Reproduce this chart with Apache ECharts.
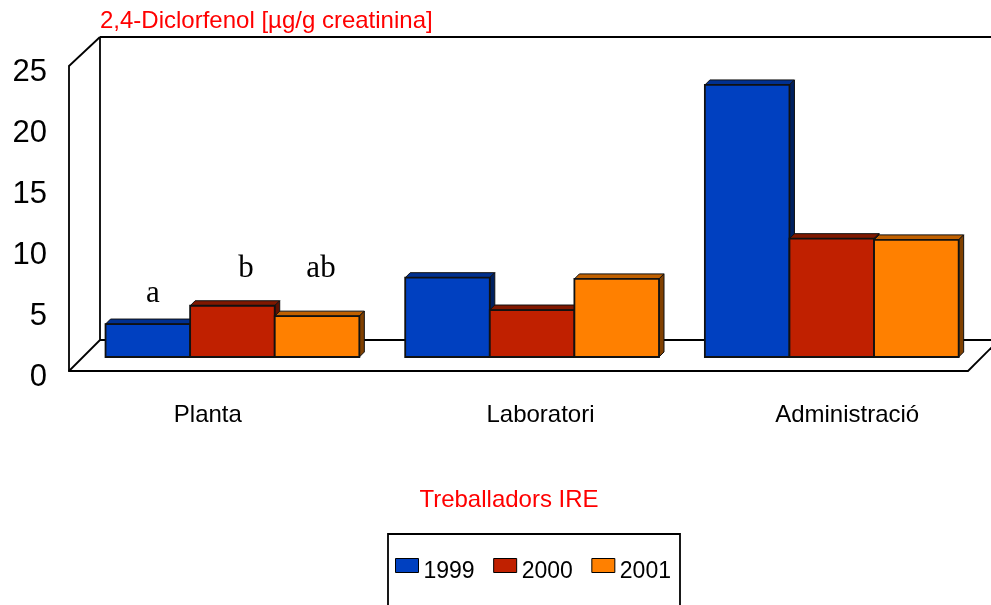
<!DOCTYPE html>
<html><head><meta charset="utf-8">
<style>html,body{margin:0;padding:0;background:#fff;overflow:hidden}#c{width:991px;height:605px}</style>
<script src="https://cdn.jsdelivr.net/npm/echarts@6/dist/echarts.min.js"></script>
</head><body><div id="c"></div>
<script>
var categories = ['Planta', 'Laboratori', 'Administració'];
var years = ['1999', '2000', '2001'];
var v1999 = [2.7, 6.5, 22.3];
var v2000 = [4.2, 3.85, 9.7];
var v2001 = [3.35, 6.4, 9.6];
var yTicks = [0, 5, 10, 15, 20, 25];
var titleText = '2,4-Diclorfenol [\u00b5g/g creatinina]';
var xTitle = 'Treballadors IRE';
var letters = ['a', 'b', 'ab'];

var front = ['#0040C0', '#C02000', '#FF8000'];
var topC = ['#003090', '#801800', '#C06000'];
var sideC = ['#002060', '#601000', '#804000'];
var ink = '#111';
var DX = 13.6, DY = -14, D = 5, BAR = 84.6;
var labelShift = [-22, 44, 58];

function barItem(s) {
  return function (params, api) {
    var c = api.coord([api.value(0), api.value(1)]);
    var b = api.coord([api.value(0), 0]);
    var x = c[0] + DX - 1.5 * BAR + s * BAR, x2 = x + BAR;
    var yt = c[1] + DY, yb = b[1] + DY;
    return { type: 'group', children: [
      { type: 'polygon', shape: { points: [[x, yt], [x + D, yt - D], [x2 + D, yt - D], [x2, yt]] },
        style: { fill: topC[s], stroke: ink, lineWidth: 1 } },
      { type: 'polygon', shape: { points: [[x2, yt], [x2 + D, yt - D], [x2 + D, yb - D], [x2, yb]] },
        style: { fill: sideC[s], stroke: ink, lineWidth: 1 } },
      { type: 'rect', shape: { x: x, y: yt, width: BAR, height: yb - yt },
        style: { fill: front[s], stroke: ink, lineWidth: 1.8 } }
    ]};
  };
}
function frameItem(params, api) {
  var g = params.coordSys, dx = 31;
  var L = g.x, R = g.x + g.width, T = g.y, B = g.y + g.height;
  var st = { stroke: '#000', lineWidth: 1.8, fill: null };
  function ln(a, b, c, d) { return { type: 'line', shape: { x1: a, y1: b, x2: c, y2: d }, style: st }; }
  return { type: 'group', children: [
    ln(L + dx, T - 29, L + dx, B - dx),
    ln(L + dx, T - 29, R + dx, T - 29),
    ln(L + dx, B - dx, R + dx, B - dx),
    ln(L, T, L + dx, T - 29),
    ln(L, B, L + dx, B - dx),
    ln(R, B, R + dx, B - dx)
  ]};
}
function series(i, vals) {
  return { type: 'custom', name: years[i], coordinateSystem: 'cartesian2d', clip: false,
    z: 3 + i, renderItem: barItem(i), itemStyle: { color: front[i] }, encode: { x: 0, y: 1 },
    data: categories.map(function (c, k) { return [k, vals[k]]; }) };
}
var rich = {};
categories.forEach(function (c, i) {
  var s = labelShift[i];
  rich['c' + i] = { fontFamily: 'Liberation Sans', fontSize: 24, color: '#000',
    padding: s > 0 ? [0, 0, 0, s] : [0, -s, 0, 0] };
});
var chart = echarts.init(document.getElementById('c'), null, { renderer: 'canvas' });
chart.setOption({
  animation: false,
  backgroundColor: '#fff',
  grid: { left: 69, right: 23, top: 66, bottom: 234, containLabel: false },
  title: { text: titleText, left: 100, top: 9, padding: 0,
    textStyle: { fontFamily: 'Liberation Sans', fontSize: 24, fontWeight: 'normal', color: '#FF0000' } },
  legend: { data: years, left: 388, top: 534, icon: 'rect', itemWidth: 23, itemHeight: 14, itemGap: 18.5,
    padding: [24, 9, 60, 7], borderColor: '#000', borderWidth: 1.8, backgroundColor: '#fff',
    itemStyle: { borderColor: '#000', borderWidth: 1 }, selectedMode: false,
    formatter: function (n) { return '{t|' + n + '}'; },
    textStyle: { rich: { t: { fontFamily: 'Liberation Sans', fontSize: 23, color: '#000', padding: [12, 0, 0, 0] } } } },
  xAxis: { type: 'category', data: categories, boundaryGap: true,
    axisLine: { show: true, lineStyle: { color: '#000', width: 1.8 } }, axisTick: { show: false },
    splitLine: { show: false },
    axisLabel: { margin: 32, interval: 0, hideOverlap: false, rich: rich,
      formatter: function (v) { return '{c' + categories.indexOf(v) + '|' + v + '}'; } } },
  yAxis: { type: 'value', min: 0, max: 25, interval: 5,
    axisLine: { show: true, lineStyle: { color: '#000', width: 1.8 } }, axisTick: { show: false },
    splitLine: { show: false },
    axisLabel: { margin: 22, hideOverlap: false,
      rich: { n: { fontFamily: 'Liberation Sans', fontSize: 31, color: '#000', padding: [12, 0, 0, 0] } },
      formatter: function (v) { return yTicks.indexOf(v) >= 0 ? '{n|' + v + '}' : ''; } } },
  graphic: [
    { type: 'text', x: 509, y: 500, style: { text: xTitle, x: 0, y: 0, align: 'center', verticalAlign: 'middle',
      font: '24px "Liberation Sans"', fill: '#FF0000' } },
    { type: 'text', x: 153, y: 294, style: { text: letters[0], align: 'center', verticalAlign: 'middle', font: '31px "Liberation Serif"', fill: '#000' } },
    { type: 'text', x: 246, y: 269, style: { text: letters[1], align: 'center', verticalAlign: 'middle', font: '31px "Liberation Serif"', fill: '#000' } },
    { type: 'text', x: 321, y: 269, style: { text: letters[2], align: 'center', verticalAlign: 'middle', font: '31px "Liberation Serif"', fill: '#000' } }
  ],
  series: [
    { type: 'custom', name: 'frame', coordinateSystem: 'cartesian2d', clip: false, silent: true, z: 1,
      renderItem: frameItem, data: [[0, 0]], encode: { x: 0, y: 1 } },
    series(0, v1999), series(1, v2000), series(2, v2001)
  ]
});
</script></body></html>
